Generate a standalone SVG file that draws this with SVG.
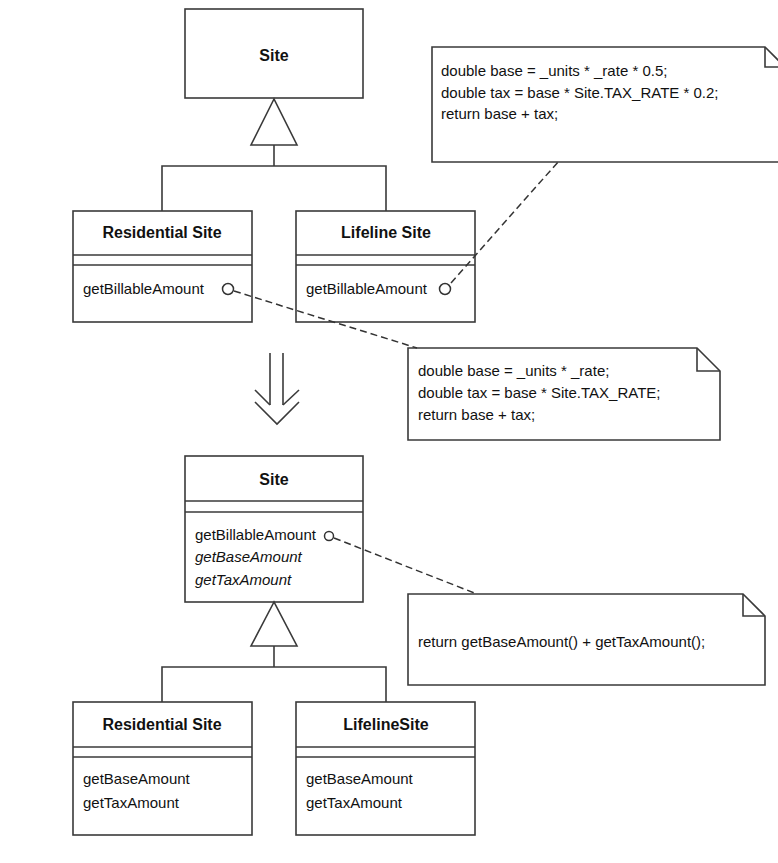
<svg xmlns="http://www.w3.org/2000/svg" width="778" height="863" viewBox="0 0 778 863">
<style>
.box{fill:#fff;stroke:#3a3a3a;stroke-width:1.6}
.ln{fill:none;stroke:#3a3a3a;stroke-width:1.6}
.dash{fill:none;stroke:#333;stroke-width:1.5;stroke-dasharray:7,4}
.tri{fill:#fff;stroke:#3a3a3a;stroke-width:1.6}
.t{font-family:"Liberation Sans",Arial,sans-serif;font-size:15px;fill:#111}
.b{font-family:"Liberation Sans",Arial,sans-serif;font-size:16px;font-weight:bold;fill:#111;text-anchor:middle}
.i{font-style:italic}
.c{fill:#fff;stroke:#333;stroke-width:1.5}
</style>
<rect width="778" height="863" fill="#fff"/>
<g id="site-top">
<rect class="box" x="185" y="9" width="178" height="89"/>
<text class="b" x="274" y="61">Site</text>
</g>
<g id="residential-top">
<rect class="box" x="73" y="211" width="179" height="111"/>
<line class="ln" x1="73" y1="255" x2="252" y2="255"/>
<line class="ln" x1="73" y1="265" x2="252" y2="265"/>
<text class="b" x="162" y="238">Residential Site</text>
<text class="t" x="83" y="294">getBillableAmount</text>
<circle class="c" cx="228" cy="289" r="5.5"/>
</g>
<g id="lifeline-top">
<rect class="box" x="296" y="211" width="179" height="111"/>
<line class="ln" x1="296" y1="255" x2="475" y2="255"/>
<line class="ln" x1="296" y1="265" x2="475" y2="265"/>
<text class="b" x="386" y="238">Lifeline Site</text>
<text class="t" x="306" y="294">getBillableAmount</text>
<circle class="c" cx="445" cy="289" r="5.5"/>
</g>
<g id="note-lifeline">
<path class="box" d="M432,47 H765 L785,67 V162 H432 Z"/>
<polyline class="ln" points="765,47 765,67 785,67"/>
<text class="t" x="441" y="76">double base = _units * _rate * 0.5;</text>
<text class="t" x="441" y="98">double tax = base * Site.TAX_RATE * 0.2;</text>
<text class="t" x="441" y="119">return base + tax;</text>
</g>
<g id="note-residential">
<path class="box" d="M408,348 H697 L720,371 V440 H408 Z"/>
<polyline class="ln" points="697,348 697,371 720,371"/>
<text class="t" x="418" y="376">double base = _units * _rate;</text>
<text class="t" x="418" y="398">double tax = base * Site.TAX_RATE;</text>
<text class="t" x="418" y="420">return base + tax;</text>
</g>
<g id="site-bottom">
<rect class="box" x="185" y="456" width="178" height="146"/>
<line class="ln" x1="185" y1="501" x2="363" y2="501"/>
<line class="ln" x1="185" y1="512" x2="363" y2="512"/>
<text class="b" x="274" y="485">Site</text>
<text class="t" x="195" y="540">getBillableAmount</text>
<text class="t i" x="195" y="562">getBaseAmount</text>
<text class="t i" x="195" y="585">getTaxAmount</text>
<circle class="c" cx="329" cy="536" r="4.5"/>
</g>
<g id="note-site">
<path class="box" d="M408,594 H743 L765,616 V685 H408 Z"/>
<polyline class="ln" points="743,594 743,616 765,616"/>
<text class="t" x="418" y="647">return getBaseAmount() + getTaxAmount();</text>
</g>
<g id="residential-bottom">
<rect class="box" x="73" y="702" width="179" height="133"/>
<line class="ln" x1="73" y1="747" x2="252" y2="747"/>
<line class="ln" x1="73" y1="757" x2="252" y2="757"/>
<text class="b" x="162" y="730">Residential Site</text>
<text class="t" x="83" y="784">getBaseAmount</text>
<text class="t" x="83" y="808">getTaxAmount</text>
</g>
<g id="lifeline-bottom">
<rect class="box" x="296" y="702" width="179" height="133"/>
<line class="ln" x1="296" y1="747" x2="475" y2="747"/>
<line class="ln" x1="296" y1="757" x2="475" y2="757"/>
<text class="b" x="386" y="730">LifelineSite</text>
<text class="t" x="306" y="784">getBaseAmount</text>
<text class="t" x="306" y="808">getTaxAmount</text>
</g>
<g id="arrow">
<line class="ln" x1="270" y1="353" x2="270" y2="405" stroke-width="2.2"/>
<line class="ln" x1="283" y1="353" x2="283" y2="405" stroke-width="2.2"/>
<polyline class="ln" points="255,390 270,405" stroke-width="2.2"/>
<polyline class="ln" points="299,390 283,405" stroke-width="2.2"/>
<polyline class="ln" points="255,402 277,424 299,402" stroke-width="2.2"/>
</g>
<g id="connectors">
<polyline class="ln" points="274,145 274,166"/>
<polyline class="ln" points="162,211 162,166 386,166 386,211"/>
<polygon class="tri" points="274,99 251,145 297,145"/>
<polyline class="ln" points="274,646 274,667"/>
<polyline class="ln" points="162,702 162,667 386,667 386,702"/>
<polygon class="tri" points="274,602 251,646 297,646"/>
<line class="dash" x1="451" y1="283" x2="558" y2="162"/>
<line class="dash" x1="234" y1="291" x2="417" y2="348"/>
<line class="dash" x1="334" y1="538" x2="477" y2="594"/>
</g>
</svg>
